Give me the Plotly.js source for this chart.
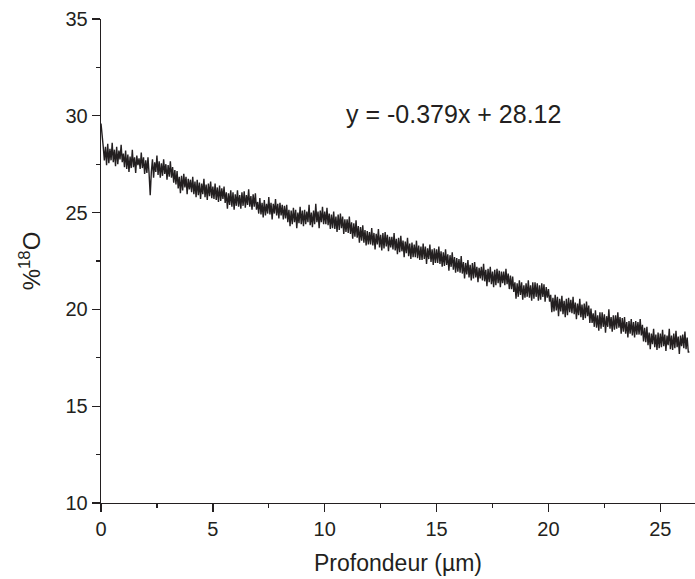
<!DOCTYPE html>
<html>
<head>
<meta charset="utf-8">
<script src="https://cdn.plot.ly/plotly-3.0.1.min.js"></script>
<style>html,body{margin:0;padding:0;background:#fff;}#chart{width:695px;height:579px;}</style>
</head>
<body>
<div id="chart"></div>
<script>
// Depth profile, one value every 0.05 µm starting at 0 µm
const depthStart = 0;
const depthStep = 0.05;
const o18Percent = [
  29.60, 29.10, 28.40, 27.70, 28.40, 27.45, 28.55, 27.55, 28.30, 27.70, 28.60, 27.60, 28.25, 27.40, 28.40, 27.50, 28.20, 27.75, 28.50, 27.60,
  28.05, 27.35, 28.20, 27.25, 28.00, 27.10, 27.90, 27.30, 28.25, 27.35, 27.85, 27.05, 27.95, 27.45, 27.80, 27.25, 28.10, 27.30, 27.85, 27.00,
  27.70, 27.05, 27.85, 27.00, 25.90, 27.10, 27.75, 26.80, 27.60, 27.10, 27.95, 26.95, 27.65, 26.80, 27.55, 26.90, 27.75, 27.00, 27.50, 26.70,
  27.45, 26.85, 27.65, 26.80, 27.35, 26.55, 27.20, 26.45, 27.15, 26.25, 26.85, 26.00, 26.90, 26.15, 27.00, 26.30, 26.85, 25.95, 26.75, 26.20,
  26.70, 26.05, 26.85, 25.95, 26.60, 25.80, 26.70, 25.90, 26.55, 25.70, 26.50, 25.95, 26.75, 25.80, 26.45, 25.65, 26.50, 25.85, 26.60, 25.75,
  26.35, 25.70, 26.50, 25.65, 26.30, 25.55, 26.40, 25.60, 26.25, 25.70, 26.35, 25.50, 26.05, 25.20, 26.00, 25.40, 26.15, 25.30, 26.05, 25.15,
  25.95, 25.35, 26.15, 25.30, 25.90, 25.20, 26.05, 25.35, 26.10, 25.25, 25.90, 25.40, 26.20, 25.30, 25.85, 25.15, 25.95, 25.30, 26.00, 25.15,
  25.55, 24.95, 25.75, 24.90, 25.50, 24.75, 25.65, 24.85, 25.45, 24.95, 25.80, 24.90, 25.50, 24.65, 25.45, 24.95, 25.70, 24.85, 25.45, 24.70,
  25.50, 24.85, 25.40, 24.65, 25.35, 24.70, 25.40, 24.50, 25.15, 24.30, 25.10, 24.40, 25.25, 24.50, 25.15, 24.20, 25.00, 24.45, 25.30, 24.40,
  25.10, 24.30, 25.15, 24.40, 25.05, 24.50, 25.40, 24.35, 25.00, 24.25, 25.10, 24.40, 25.45, 24.50, 25.05, 24.20, 25.10, 24.50, 25.30, 24.40,
  25.05, 24.40, 25.25, 24.35, 24.95, 24.15, 24.90, 24.20, 25.05, 24.15, 24.80, 24.00, 24.90, 24.10, 24.95, 24.20, 24.80, 23.90, 24.65, 24.00,
  24.65, 23.95, 24.80, 23.90, 24.50, 23.65, 24.45, 23.75, 24.60, 23.70, 24.30, 23.45, 24.25, 23.55, 24.35, 23.45, 24.10, 23.30, 24.05, 23.35,
  24.00, 23.35, 24.20, 23.30, 23.95, 23.10, 23.90, 23.35, 24.15, 23.20, 23.85, 23.05, 23.95, 23.15, 24.00, 23.25, 23.85, 23.00, 23.75, 23.20,
  23.75, 23.10, 23.95, 23.05, 23.65, 22.85, 23.70, 22.95, 23.80, 23.00, 23.55, 22.70, 23.50, 22.90, 23.70, 22.75, 23.40, 22.60, 23.45, 22.70,
  23.35, 22.70, 23.55, 22.65, 23.30, 22.55, 23.25, 22.55, 23.40, 22.60, 23.25, 22.35, 23.15, 22.60, 23.35, 22.45, 23.10, 22.30, 23.15, 22.40,
  23.10, 22.40, 23.25, 22.35, 23.00, 22.20, 22.95, 22.25, 23.10, 22.30, 22.85, 22.00, 22.80, 22.20, 22.95, 22.05, 22.70, 21.90, 22.65, 21.95,
  22.60, 21.90, 22.75, 21.85, 22.45, 21.60, 22.40, 21.80, 22.55, 21.65, 22.30, 21.50, 22.40, 21.60, 22.45, 21.65, 22.20, 21.40, 22.15, 21.60,
  22.20, 21.50, 22.35, 21.45, 22.05, 21.20, 22.10, 21.40, 22.20, 21.30, 21.95, 21.15, 22.05, 21.25, 22.10, 21.35, 22.00, 21.15, 21.95, 21.35,
  21.95, 21.25, 22.10, 21.30, 21.85, 21.05, 21.75, 21.05, 21.70, 20.90, 21.40, 20.55, 21.35, 20.65, 21.50, 20.75, 21.40, 20.50, 21.25, 20.60,
  21.35, 20.65, 21.50, 20.60, 21.25, 20.45, 21.40, 20.55, 21.40, 20.65, 21.35, 20.45, 21.25, 20.50, 21.35, 20.65, 21.30, 20.40, 21.15, 20.60,
  21.05, 20.40, 20.75, 19.85, 20.60, 19.90, 20.75, 19.95, 20.65, 19.65, 20.55, 19.90, 20.70, 19.75, 20.45, 19.60, 20.55, 19.70, 20.60, 19.85,
  20.50, 19.80, 20.65, 19.75, 20.35, 19.50, 20.30, 19.70, 20.55, 19.60, 20.25, 19.45, 20.30, 19.55, 20.40, 19.65, 20.20, 19.30, 20.05, 19.30,
  19.80, 19.10, 19.95, 19.05, 19.70, 18.90, 19.85, 19.00, 19.85, 19.10, 19.75, 18.80, 19.65, 19.10, 20.00, 19.00, 19.60, 18.85, 19.70, 18.95,
  19.70, 19.00, 19.85, 19.05, 19.60, 18.75, 19.55, 18.85, 19.60, 18.75, 19.35, 18.55, 19.40, 18.75, 19.50, 18.65, 19.35, 18.55, 19.40, 18.70,
  19.35, 18.70, 19.50, 18.65, 19.20, 18.35, 19.05, 18.30, 19.10, 18.15, 18.80, 17.95, 18.75, 18.20, 19.00, 18.05, 18.70, 17.90, 18.80, 18.00,
  18.75, 18.05, 18.95, 18.10, 18.70, 17.85, 18.65, 18.15, 19.00, 17.95, 18.65, 17.90, 18.75, 18.00, 18.90, 18.05, 18.60, 17.70, 18.65, 18.10,
  18.70, 18.00, 18.85, 17.95, 18.55, 17.80, 17.80
];
const fitLabel = 'y = -0.379x + 28.12';
const xTickValues = [0, 5, 10, 15, 20, 25];
const yTickValues = [10, 15, 20, 25, 30, 35];

const font = 'Liberation Sans, Arial, sans-serif';
const ink = '#231f20';

const trace = {
  type: 'scatter',
  mode: 'lines',
  x0: depthStart,
  dx: depthStep,
  y: o18Percent,
  line: {color: ink, width: 1.4},
  hoverinfo: 'x+y',
  showlegend: false
};

const axisCommon = {
  showline: true,
  linecolor: ink,
  linewidth: 1.3,
  ticks: 'outside',
  ticklen: 8,
  tickwidth: 1.3,
  tickcolor: ink,
  showgrid: false,
  zeroline: false,
  mirror: false,
  tickfont: {family: font, size: 20, color: ink}
};

const layout = {
  width: 695,
  height: 579,
  margin: {l: 101, r: 0, t: 19, b: 76},
  paper_bgcolor: '#ffffff',
  plot_bgcolor: '#ffffff',
  font: {family: font, color: ink},
  xaxis: Object.assign({}, axisCommon, {
    range: [0, 26.55],
    tickmode: 'array',
    tickvals: xTickValues,
    ticktext: xTickValues.map(String),
    minor: {ticks: 'outside', ticklen: 4, tickwidth: 1.3, tickcolor: ink, dtick: 2.5, tick0: 0, showgrid: false},
    title: {text: 'Profondeur (µm)', font: {family: font, size: 23, color: ink}, standoff: 15}
  }),
  yaxis: Object.assign({}, axisCommon, {
    range: [10, 35],
    tickmode: 'array',
    tickvals: yTickValues,
    ticktext: yTickValues.map(String),
    minor: {ticks: 'outside', ticklen: 4, tickwidth: 1.3, tickcolor: ink, dtick: 2.5, tick0: 10, showgrid: false},
    title: {text: '%<sup>18</sup>O', font: {family: font, size: 24, color: ink}, standoff: 18}
  }),
  annotations: [{
    text: fitLabel,
    xref: 'x', yref: 'y',
    x: 15.75, y: 30.1,
    showarrow: false,
    font: {family: font, size: 25, color: ink}
  }]
};

Plotly.newPlot('chart', [trace], layout, {staticPlot: true, displayModeBar: false});
</script>
</body>
</html>
